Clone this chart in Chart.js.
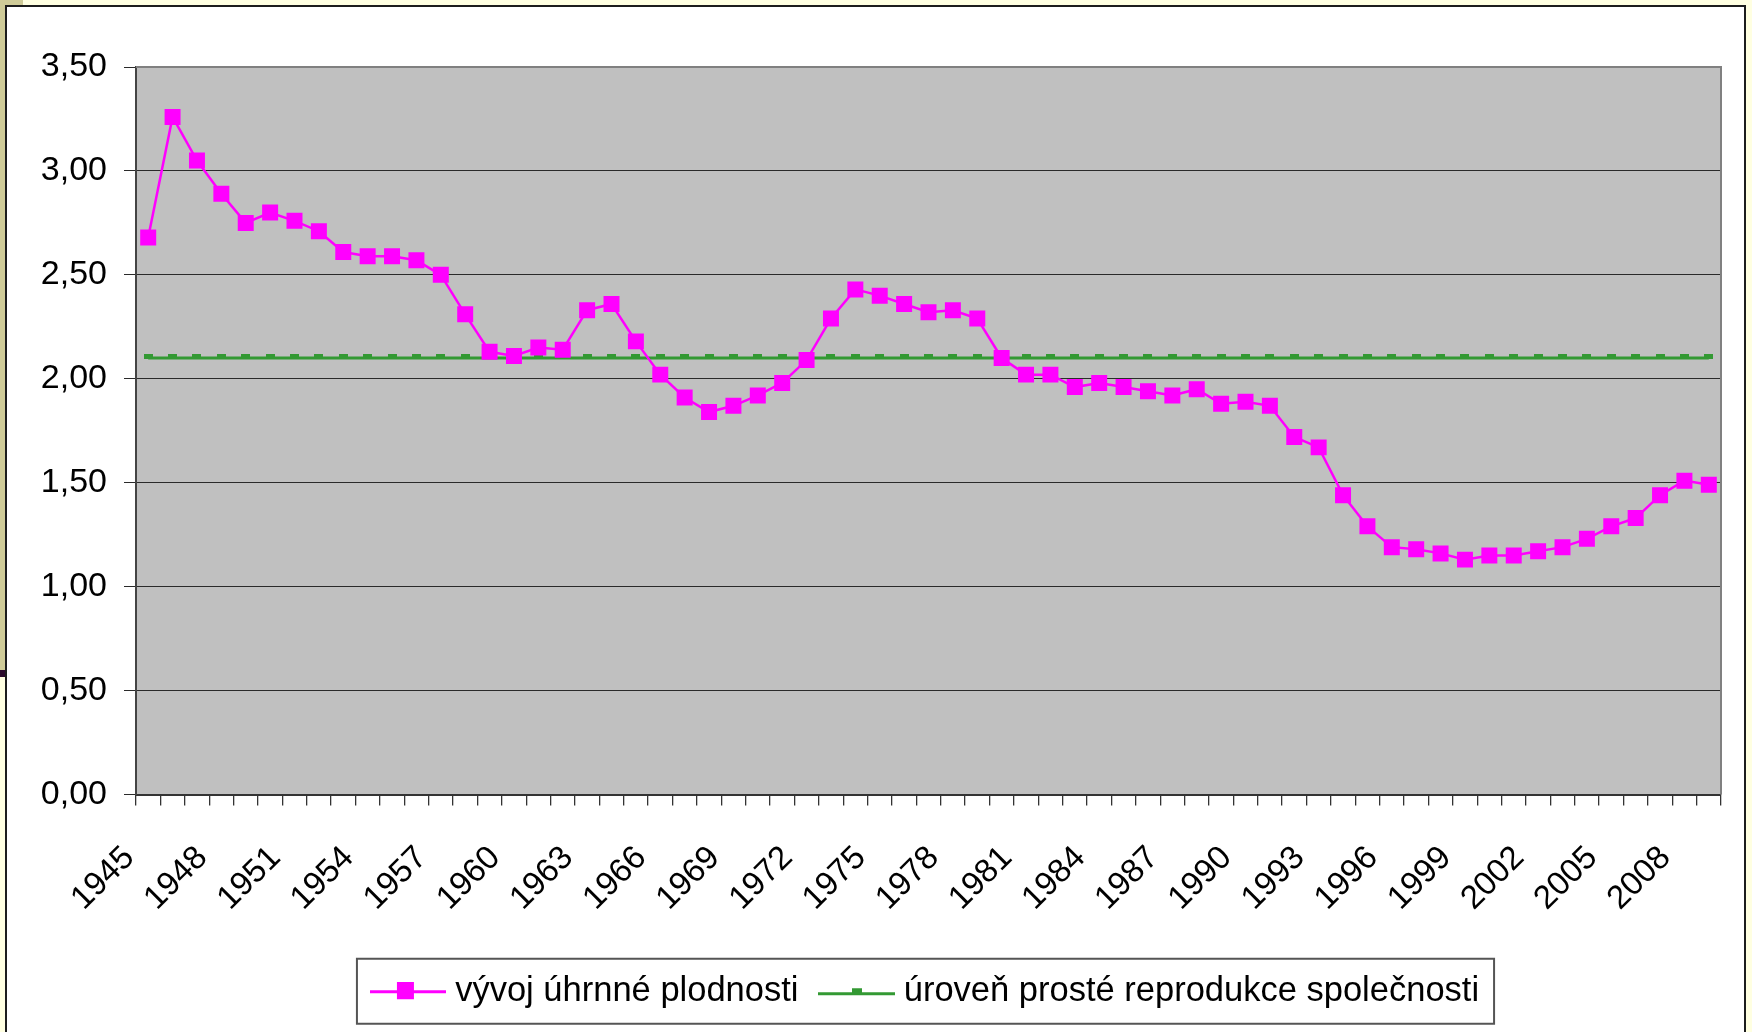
<!DOCTYPE html>
<html>
<head>
<meta charset="utf-8">
<script src="https://cdn.jsdelivr.net/npm/chart.js@4.4.1/dist/chart.umd.min.js"></script>
<style>
  html, body { margin: 0; padding: 0; }
  body { width: 1752px; height: 1032px; background: #ffffe1; position: relative; overflow: hidden; }
  #strip { position: absolute; left: 0; top: 0; width: 5px; height: 670px; background: #cfcb98; }
  #stripEnd { position: absolute; left: 0; top: 670px; width: 5px; height: 7px; background: #2b0a2b; }
  #corner { position: absolute; left: 0; top: 0; width: 23px; height: 6px; background: #cfcb98; }
  #frame { position: absolute; left: 5px; top: 5px; width: 1737px; height: 1100px; background: #fff; border: 2px solid #1c1c1c; }
  #chartBox { position: absolute; left: 8px; top: 9px; }
</style>
</head>
<body>
<div id="corner"></div>
<div id="strip"></div>
<div id="stripEnd"></div>
<div id="frame"></div>
<div id="chartBox"><canvas id="tfr" width="1733" height="1031"></canvas></div>
<script>
const years = [
  '1945', '1946', '1947', '1948', '1949', '1950', '1951', '1952', '1953', '1954',
  '1955', '1956', '1957', '1958', '1959', '1960', '1961', '1962', '1963', '1964',
  '1965', '1966', '1967', '1968', '1969', '1970', '1971', '1972', '1973', '1974',
  '1975', '1976', '1977', '1978', '1979', '1980', '1981', '1982', '1983', '1984',
  '1985', '1986', '1987', '1988', '1989', '1990', '1991', '1992', '1993', '1994',
  '1995', '1996', '1997', '1998', '1999', '2000', '2001', '2002', '2003', '2004',
  '2005', '2006', '2007', '2008', '2009'
];

// úhrnná plodnost
const fertility = [
  2.68, 3.26, 3.05, 2.89, 2.75, 2.80, 2.76, 2.71, 2.61, 2.59,
  2.59, 2.57, 2.50, 2.31, 2.13, 2.11, 2.15, 2.14, 2.33, 2.36,
  2.18, 2.02, 1.91, 1.84, 1.87, 1.92, 1.98, 2.09, 2.29, 2.43,
  2.40, 2.36, 2.32, 2.33, 2.29, 2.10, 2.02, 2.02, 1.96, 1.98,
  1.96, 1.94, 1.92, 1.95, 1.88, 1.89, 1.87, 1.72, 1.67, 1.44,
  1.29, 1.19, 1.18, 1.16, 1.13, 1.15, 1.15, 1.17, 1.19, 1.23,
  1.29, 1.33, 1.44, 1.51, 1.49
];

// prostá reprodukce - constant level
const replacementLevel = 2.1;
const replacement = years.map(() => replacementLevel);

const shownYears = ['1945', '1948', '1951', '1954', '1957', '1960', '1963', '1966', '1969', '1972',
  '1975', '1978', '1981', '1984', '1987', '1990', '1993', '1996', '1999', '2002', '2005', '2008'];

const seriesNames = ['vývoj úhrnné plodnosti', 'úroveň prosté reprodukce společnosti'];

const PINK = '#ff00ff';
const GREEN = '#339933';
const FONT = 'Liberation Sans, Arial, sans-serif';

function makeIcon(w, h, draw) {
  const c = document.createElement('canvas');
  c.width = w;
  c.height = h;
  draw(c.getContext('2d'));
  return c;
}

// little dash marker sitting on top of the green line
const greenDash = makeIcon(9, 8, ctx => {
  ctx.fillStyle = GREEN;
  ctx.fillRect(0, 0, 9, 5);
});

const pinkLegendIcon = makeIcon(76, 18, ctx => {
  ctx.fillStyle = PINK;
  ctx.fillRect(0, 8, 76, 3);
  ctx.fillRect(27, 0, 17, 17);
});

const greenLegendIcon = makeIcon(77, 12, ctx => {
  ctx.fillStyle = GREEN;
  ctx.fillRect(0, 7, 77, 3);
  ctx.fillRect(34, 3, 10, 5);
});

const plotFrame = {
  id: 'plotFrame',
  beforeDraw(chart) {
    const { ctx, chartArea: a } = chart;
    ctx.save();
    ctx.fillStyle = '#c0c0c0';
    ctx.fillRect(a.left, a.top, a.right - a.left, a.bottom - a.top);
    ctx.restore();
  },
  afterDraw(chart) {
    const { ctx, chartArea: a } = chart;
    ctx.save();
    ctx.strokeStyle = '#808080';
    ctx.lineWidth = 2;
    ctx.beginPath();
    ctx.moveTo(a.left, a.top);
    ctx.lineTo(a.right, a.top);
    ctx.lineTo(a.right, a.bottom);
    ctx.stroke();

    // box round the legend
    const boxes = chart.legend.legendHitBoxes;
    if (boxes && boxes.length) {
      const first = boxes[0];
      const last = boxes[boxes.length - 1];
      const mid = first.top + first.height / 2;
      const left = first.left - 21;
      const right = last.left + last.width + 15;
      ctx.strokeStyle = '#555';
      ctx.lineWidth = 2;
      ctx.strokeRect(left, mid - 32.5, right - left, 65);
    }
    ctx.restore();
  }
};

const ctx = document.getElementById('tfr').getContext('2d');

new Chart(ctx, {
  type: 'line',
  data: {
    labels: years,
    datasets: [
      {
        label: seriesNames[0],
        data: fertility,
        borderColor: PINK,
        backgroundColor: PINK,
        borderWidth: 2.5,
        pointStyle: 'rect',
        pointRadius: 11.3,
        pointBorderWidth: 0,
        pointBackgroundColor: PINK,
        tension: 0,
        order: 0
      },
      {
        label: seriesNames[1],
        data: replacement,
        borderColor: GREEN,
        backgroundColor: GREEN,
        borderWidth: 3,
        pointStyle: greenDash,
        pointRadius: 4,
        tension: 0,
        order: 1
      }
    ]
  },
  options: {
    responsive: false,
    animation: false,
    events: [],
    layout: {
      padding: { left: 0, right: 20, top: 58, bottom: 21.5 }
    },
    scales: {
      x: {
        offset: true,
        grid: {
          offset: true,
          drawOnChartArea: false,
          drawTicks: true,
          tickLength: 11,
          color: '#333',
          lineWidth: 1.3
        },
        border: { display: true, color: '#333', width: 2 },
        ticks: {
          autoSkip: false,
          maxRotation: 45,
          minRotation: 45,
          padding: 33,
          labelOffset: -19,
          color: '#000',
          font: { family: FONT, size: 33 },
          callback: (value, i) => shownYears.includes(years[i]) ? years[i] : ''
        },
        afterFit: scale => {
          scale.height = 151.5;
          scale.paddingLeft = 0;
          scale.paddingRight = 0;
        }
      },
      y: {
        min: 0,
        max: 3.5,
        grid: {
          color: '#2a2a2a',
          lineWidth: 1,
          tickLength: 12
        },
        border: { display: true, color: '#444', width: 2 },
        ticks: {
          stepSize: 0.5,
          padding: 17,
          color: '#000',
          font: { family: FONT, size: 34 },
          callback: v => v.toFixed(2).replace('.', ',')
        },
        afterFit: scale => { scale.width = 128; }
      }
    },
    plugins: {
      tooltip: { enabled: false },
      legend: {
        position: 'bottom',
        fullSize: false,
        labels: {
          usePointStyle: true,
          pointStyleWidth: 60,
          padding: 28,
          color: '#000',
          font: { family: FONT, size: 34.5 },
          generateLabels(chart) {
            const items = Chart.defaults.plugins.legend.labels.generateLabels(chart);
            const icons = [pinkLegendIcon, greenLegendIcon];
            items.forEach((item, i) => { item.pointStyle = icons[i]; });
            return items;
          }
        }
      }
    }
  },
  plugins: [plotFrame]
});
</script>
</body>
</html>
